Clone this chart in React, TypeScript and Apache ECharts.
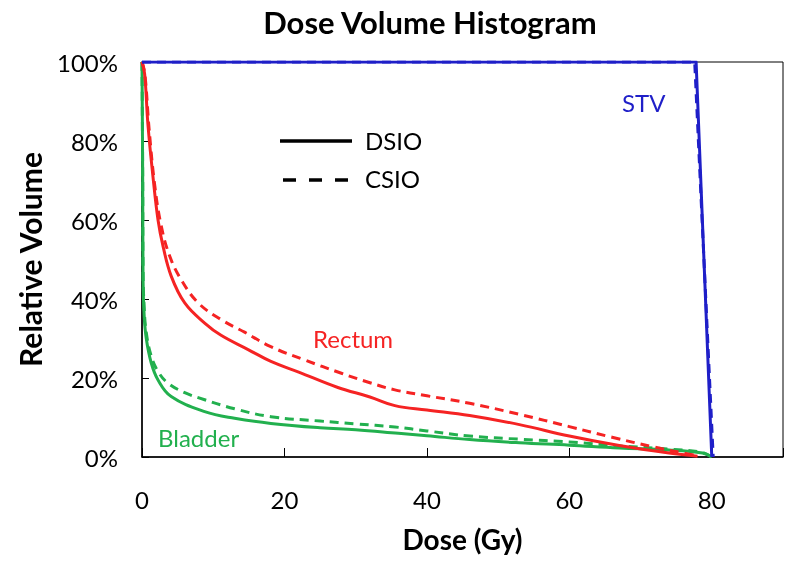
import React, { useEffect, useRef } from "react";
import * as echarts from "echarts";

const xTicks = [0, 20, 40, 60, 80];
const yTicks = [0, 20, 40, 60, 80, 100];

const stvSolid: number[][] = [[0, 100], [77.8, 100], [80, 0]];
const stvDashed: number[][] = [[0, 100], [77.6, 100], [80.2, 0]];

const rectumSolid: number[][] = [
  [0, 100], [0.37, 97], [0.84, 84], [1.54, 71], [2.25, 60], [2.95, 53.4], [4.1, 45.8], [6, 39],
  [8.8, 33.9], [11.1, 30.8], [14.9, 27.2], [18.1, 24.2], [22, 21.5], [27.5, 17.6], [32, 15.2],
  [35.5, 13], [40, 11.9], [46, 10.5], [53, 8.2], [60, 5.3], [67, 2.9], [74, 1], [78, 0.2],
];
const rectumDashed: number[][] = [
  [0, 100], [0.4, 97], [1, 83], [1.8, 68.6], [2.7, 58.5], [3.9, 50.8], [5.5, 44.9], [7.9, 39],
  [11.1, 34.8], [14.4, 31.6], [18, 28], [22.8, 24.6], [28, 21.2], [32, 18.8], [35.5, 17],
  [40, 15.5], [46, 13.6], [53, 10.8], [60, 7.7], [66, 5], [71.7, 2.6], [76, 1], [78, 0.3],
];
const bladderSolid: number[][] = [
  [0, 100], [0.1, 70], [0.15, 45], [0.3, 36], [0.6, 30], [1.3, 23.8], [2.25, 19.5], [4.1, 15.3],
  [8.8, 11.5], [13, 9.8], [18.1, 8.5], [25, 7.4], [30, 6.9], [36, 6.0], [40, 5.4], [46, 4.4],
  [53, 3.6], [60, 3], [67, 2.3], [74, 1.8], [78.7, 1], [80, 0],
];
const bladderDashed: number[][] = [
  [0, 100], [0.1, 70], [0.15, 47], [0.3, 38], [0.6, 31.5], [1.3, 25.5], [2.3, 21.5], [3.65, 18.7],
  [6, 16.3], [8.8, 14.5], [13, 12.2], [18.1, 10.2], [25, 9.1], [30, 8.4], [35.5, 7.6], [40, 6.6],
  [46, 5.3], [53, 4.5], [60, 3.8], [67, 2.8], [74, 2], [78.5, 1.2], [80, 0],
];

const BLUE = "#1f1fc8";
const RED = "#f52323";
const GREEN = "#22b04e";
const FONT = "Lato";

export default function App() {
  const ref = useRef<HTMLDivElement>(null);
  useEffect(() => {
    if (!ref.current) return;
    const chart = echarts.init(ref.current, undefined, { renderer: "svg" });
    const line = (name: string, data: number[][], color: string, dashed: boolean, z: number, smooth: boolean) => ({
      name,
      type: "line",
      data,
      showSymbol: false,
      symbol: "none",
      smooth: smooth ? 0.4 : false,
      z,
      lineStyle: { color, width: 3, type: dashed ? [9, 6] : "solid", join: "round", cap: "butt" },
    });
    chart.setOption({
      animation: false,
      textStyle: { fontFamily: FONT },
      grid: { left: 142, right: 17, top: 62, bottom: 110, show: true, borderColor: "#000", borderWidth: 1 },
      xAxis: {
        type: "value",
        min: 0,
        max: 90,
        interval: 20,
        name: "Dose (Gy)",
        nameLocation: "middle",
        nameGap: 68,
        nameTextStyle: { fontFamily: FONT, fontWeight: "bold", fontSize: 28, color: "#000" },
        axisLine: { show: true, lineStyle: { color: "#000", width: 1.5 } },
        axisTick: { show: true, inside: true, length: 9, lineStyle: { color: "#000" } },
        axisLabel: {
          color: "#000",
          fontSize: 24,
          margin: 30,
          formatter: (v: number) => (xTicks.includes(v) ? String(v) : ""),
        },
        splitLine: { show: false },
      },
      yAxis: {
        type: "value",
        min: 0,
        max: 100,
        interval: 20,
        name: "Relative Volume",
        nameLocation: "middle",
        nameGap: 97,
        nameTextStyle: { fontFamily: FONT, fontWeight: "bold", fontSize: 30, color: "#000" },
        axisLine: { show: true, lineStyle: { color: "#000", width: 1.5 } },
        axisTick: { show: true, inside: true, length: 7, lineStyle: { color: "#000" } },
        axisLabel: {
          color: "#000",
          fontSize: 24,
          margin: 24,
          formatter: (v: number) => (yTicks.includes(v) ? v + "%" : ""),
        },
        splitLine: { show: false },
      },
      title: {
        text: "Dose Volume Histogram",
        left: 425,
        top: 1,
        textAlign: "center",
        textStyle: { fontFamily: FONT, fontWeight: "bold", fontSize: 31, color: "#000" },
      },
      series: [
        line("Bladder CSIO", bladderDashed, GREEN, true, 2, true),
        line("Bladder DSIO", bladderSolid, GREEN, false, 2, true),
        line("Rectum CSIO", rectumDashed, RED, true, 3, true),
        line("Rectum DSIO", rectumSolid, RED, false, 3, true),
        line("STV CSIO", stvDashed, BLUE, true, 4, false),
        line("STV DSIO", stvSolid, BLUE, false, 4, false),
      ],
      graphic: [
        { type: "line", shape: { x1: 280, y1: 141, x2: 352, y2: 141 }, style: { stroke: "#000", lineWidth: 3.5 } },
        { type: "line", shape: { x1: 283, y1: 180, x2: 352, y2: 180 }, style: { stroke: "#000", lineWidth: 3.5, lineDash: [13, 13] } },
        { type: "text", x: 365, y: 140, style: { text: "DSIO", fontFamily: FONT, fontSize: 24, fill: "#000", verticalAlign: "middle" } },
        { type: "text", x: 365, y: 178, style: { text: "CSIO", fontFamily: FONT, fontSize: 24, fill: "#000", verticalAlign: "middle" } },
        { type: "text", x: 622, y: 102, style: { text: "STV", fontFamily: FONT, fontSize: 24, fill: BLUE, verticalAlign: "middle" } },
        { type: "text", x: 313, y: 338, style: { text: "Rectum", fontFamily: FONT, fontSize: 24, fill: RED, verticalAlign: "middle" } },
        { type: "text", x: 158, y: 437, style: { text: "Bladder", fontFamily: FONT, fontSize: 24, fill: GREEN, verticalAlign: "middle" } },
      ],
    });
    return () => chart.dispose();
  }, []);
  return <div ref={ref} style={{ position: "fixed", left: 0, top: 0, width: 800, height: 567 }} />;
}
